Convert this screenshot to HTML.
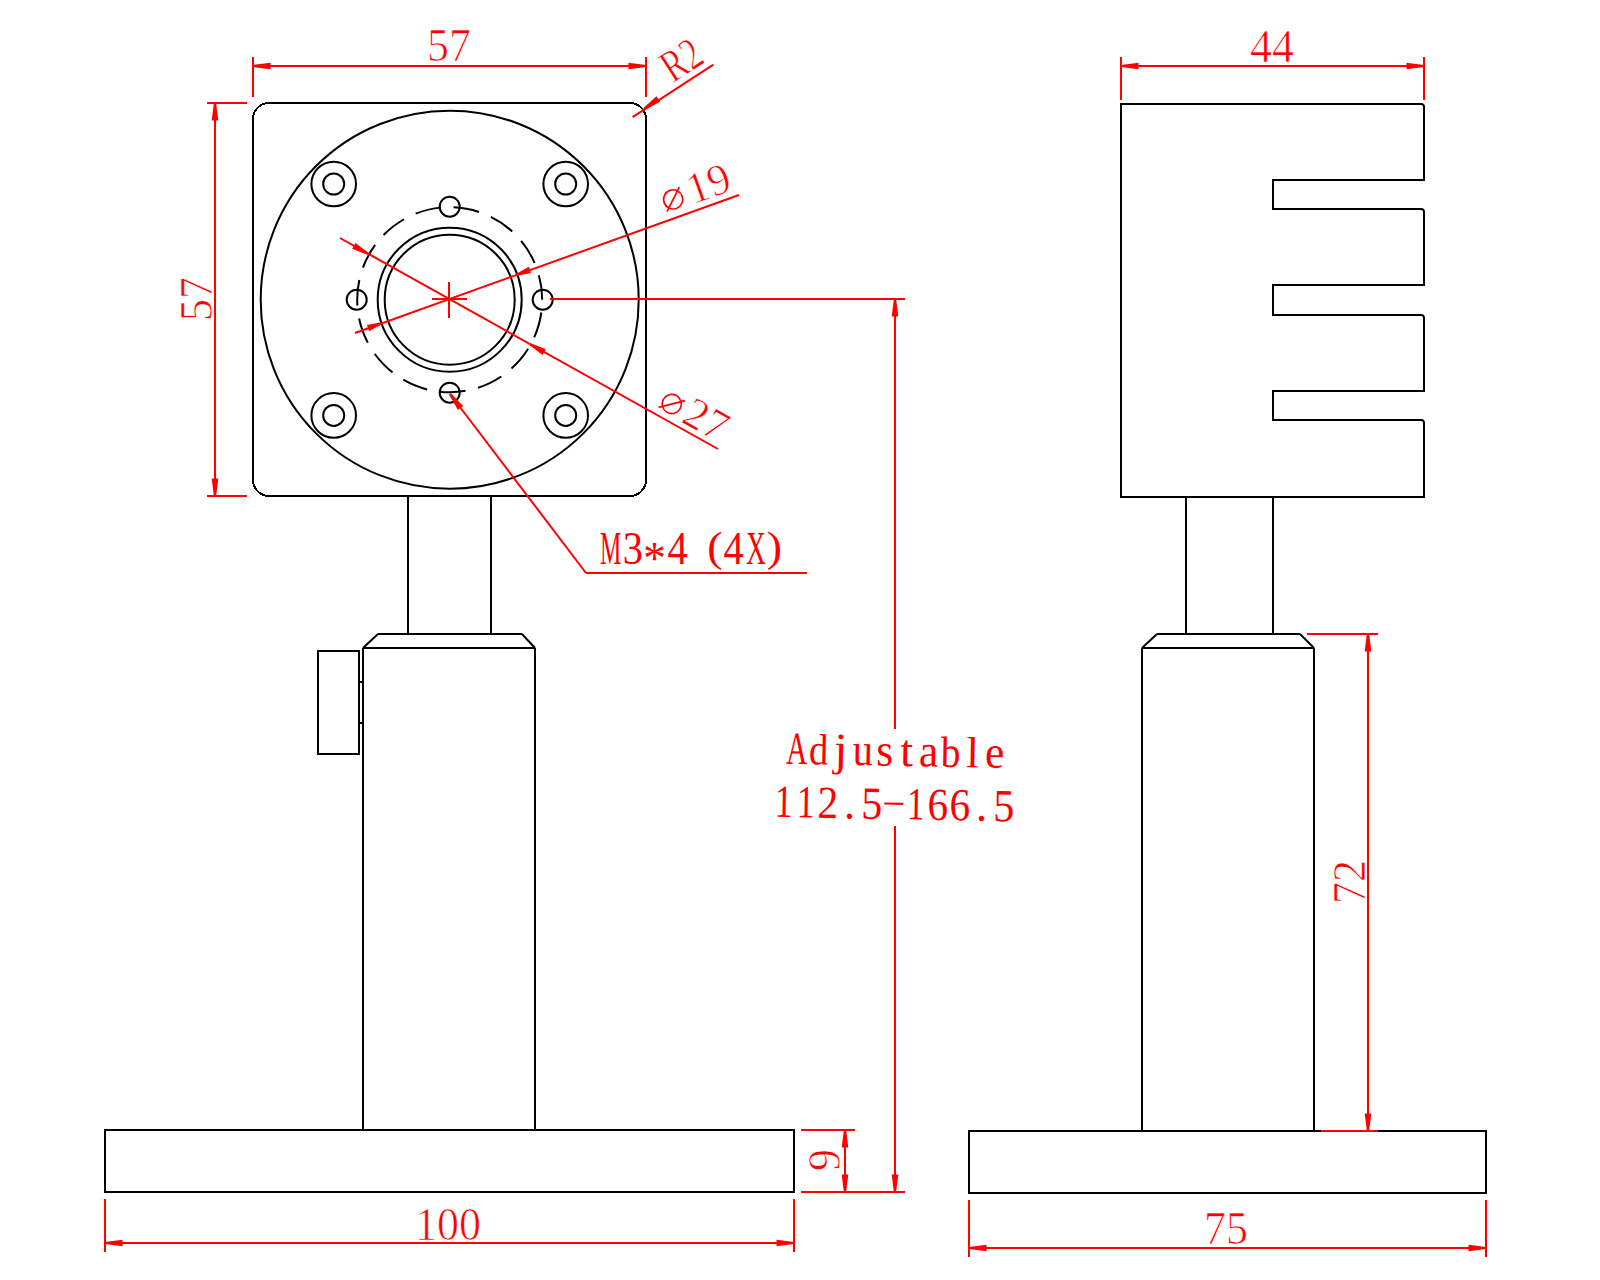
<!DOCTYPE html>
<html><head><meta charset="utf-8"><style>
html,body{margin:0;padding:0;background:#fff;}
svg{display:block;}
</style></head><body>
<svg width="1600" height="1280" viewBox="0 0 1600 1280">
<rect width="1600" height="1280" fill="#fff"/>
<g shape-rendering="crispEdges">
<rect x="253" y="103" width="393" height="393" rx="16" ry="16" fill="none" stroke="#000000" stroke-width="2"/>
</g>
<circle cx="449.70" cy="299.70" r="189.00" fill="none" stroke="#000000" stroke-width="2" />
<circle cx="333.70" cy="184.00" r="22.30" fill="none" stroke="#000000" stroke-width="2" />
<circle cx="333.70" cy="184.00" r="10.50" fill="none" stroke="#000000" stroke-width="2" />
<circle cx="333.70" cy="415.40" r="22.30" fill="none" stroke="#000000" stroke-width="2" />
<circle cx="333.70" cy="415.40" r="10.50" fill="none" stroke="#000000" stroke-width="2" />
<circle cx="565.70" cy="184.00" r="22.30" fill="none" stroke="#000000" stroke-width="2" />
<circle cx="565.70" cy="184.00" r="10.50" fill="none" stroke="#000000" stroke-width="2" />
<circle cx="565.70" cy="415.40" r="22.30" fill="none" stroke="#000000" stroke-width="2" />
<circle cx="565.70" cy="415.40" r="10.50" fill="none" stroke="#000000" stroke-width="2" />
<circle cx="449.70" cy="299.70" r="72.00" fill="none" stroke="#000000" stroke-width="2" />
<circle cx="449.70" cy="299.70" r="65.00" fill="none" stroke="#000000" stroke-width="2" />
<path d="M542.2,299.7 A92.5,92.5 0 0 1 357.2,299.7 A92.5,92.5 0 0 1 542.2,299.7" fill="none" stroke="#000000" stroke-width="2" stroke-dasharray="25.831 12.915" stroke-dashoffset="25.831"/>
<circle cx="542.70" cy="299.70" r="10.00" fill="none" stroke="#000000" stroke-width="2" />
<circle cx="356.70" cy="299.70" r="10.00" fill="none" stroke="#000000" stroke-width="2" />
<circle cx="449.70" cy="206.70" r="10.00" fill="none" stroke="#000000" stroke-width="2" />
<circle cx="449.70" cy="392.70" r="10.00" fill="none" stroke="#000000" stroke-width="2" />
<g shape-rendering="crispEdges">
<line x1="408.00" y1="496.00" x2="408.00" y2="634.00" stroke="#000000" stroke-width="2"/>
<line x1="491.00" y1="496.00" x2="491.00" y2="634.00" stroke="#000000" stroke-width="2"/>
<line x1="378.00" y1="634.00" x2="522.00" y2="634.00" stroke="#000000" stroke-width="2"/>
<line x1="363.00" y1="648.00" x2="535.00" y2="648.00" stroke="#000000" stroke-width="2"/>
<line x1="363.00" y1="1130.00" x2="363.00" y2="648.00" stroke="#000000" stroke-width="2"/>
<line x1="535.00" y1="1130.00" x2="535.00" y2="648.00" stroke="#000000" stroke-width="2"/>
<rect x="318" y="651" width="41" height="103" fill="none" stroke="#000" stroke-width="2"/>
<line x1="359.00" y1="682.00" x2="363.00" y2="682.00" stroke="#000000" stroke-width="2"/>
<line x1="359.00" y1="723.00" x2="363.00" y2="723.00" stroke="#000000" stroke-width="2"/>
<rect x="105" y="1130" width="689" height="62" fill="none" stroke="#000" stroke-width="2"/>
</g>
<polyline points="378.00,634.00 363.00,648.00" fill="none" stroke="#000000" stroke-width="2"/>
<polyline points="522.00,634.00 535.00,648.00" fill="none" stroke="#000000" stroke-width="2"/>
<path d="M1121,104 L1421,104 Q1424,104 1424,107 L1424,180 L1273,180 L1273,209 L1421,209 Q1424,209 1424,212 L1424,285 L1273,285 L1273,315 L1421,315 Q1424,315 1424,318 L1424,391 L1273,391 L1273,420 L1421,420 Q1424,420 1424,423 L1424,497 L1121,497 Z" fill="none" stroke="#000000" stroke-width="2"/>
<g shape-rendering="crispEdges">
<line x1="1186.00" y1="497.00" x2="1186.00" y2="634.00" stroke="#000000" stroke-width="2"/>
<line x1="1273.00" y1="497.00" x2="1273.00" y2="634.00" stroke="#000000" stroke-width="2"/>
<line x1="1157.00" y1="634.00" x2="1300.00" y2="634.00" stroke="#000000" stroke-width="2"/>
<line x1="1142.00" y1="648.00" x2="1314.00" y2="648.00" stroke="#000000" stroke-width="2"/>
<line x1="1142.00" y1="648.00" x2="1142.00" y2="1131.00" stroke="#000000" stroke-width="2"/>
<line x1="1314.00" y1="648.00" x2="1314.00" y2="1131.00" stroke="#000000" stroke-width="2"/>
<rect x="969" y="1131" width="517" height="62" fill="none" stroke="#000" stroke-width="2"/>
</g>
<polyline points="1157.00,634.00 1142.00,648.00" fill="none" stroke="#000000" stroke-width="2"/>
<polyline points="1300.00,634.00 1314.00,648.00" fill="none" stroke="#000000" stroke-width="2"/>
<g shape-rendering="crispEdges">
<line x1="253.00" y1="57.00" x2="253.00" y2="97.00" stroke="#ff0000" stroke-width="2"/>
<line x1="646.00" y1="57.00" x2="646.00" y2="97.00" stroke="#ff0000" stroke-width="2"/>
<line x1="253.00" y1="66.00" x2="646.00" y2="66.00" stroke="#ff0000" stroke-width="2"/>
<line x1="207.00" y1="103.00" x2="247.00" y2="103.00" stroke="#ff0000" stroke-width="2"/>
<line x1="207.00" y1="496.00" x2="247.00" y2="496.00" stroke="#ff0000" stroke-width="2"/>
<line x1="215.00" y1="103.00" x2="215.00" y2="496.00" stroke="#ff0000" stroke-width="2"/>
<line x1="1121.00" y1="57.00" x2="1121.00" y2="100.00" stroke="#ff0000" stroke-width="2"/>
<line x1="1424.00" y1="57.00" x2="1424.00" y2="100.00" stroke="#ff0000" stroke-width="2"/>
<line x1="1121.00" y1="66.00" x2="1424.00" y2="66.00" stroke="#ff0000" stroke-width="2"/>
<line x1="105.00" y1="1199.00" x2="105.00" y2="1252.00" stroke="#ff0000" stroke-width="2"/>
<line x1="794.00" y1="1199.00" x2="794.00" y2="1252.00" stroke="#ff0000" stroke-width="2"/>
<line x1="105.00" y1="1243.00" x2="794.00" y2="1243.00" stroke="#ff0000" stroke-width="2"/>
<line x1="969.00" y1="1200.00" x2="969.00" y2="1257.00" stroke="#ff0000" stroke-width="2"/>
<line x1="1486.00" y1="1200.00" x2="1486.00" y2="1257.00" stroke="#ff0000" stroke-width="2"/>
<line x1="969.00" y1="1248.00" x2="1486.00" y2="1248.00" stroke="#ff0000" stroke-width="2"/>
<line x1="801.00" y1="1130.00" x2="855.00" y2="1130.00" stroke="#ff0000" stroke-width="2"/>
<line x1="801.00" y1="1192.00" x2="905.00" y2="1192.00" stroke="#ff0000" stroke-width="2"/>
<line x1="845.00" y1="1130.00" x2="845.00" y2="1192.00" stroke="#ff0000" stroke-width="2"/>
<line x1="550.00" y1="299.00" x2="905.00" y2="299.00" stroke="#ff0000" stroke-width="2"/>
<line x1="895.00" y1="299.00" x2="895.00" y2="729.00" stroke="#ff0000" stroke-width="2"/>
<line x1="895.00" y1="826.00" x2="895.00" y2="1192.00" stroke="#ff0000" stroke-width="2"/>
<line x1="1307.00" y1="634.00" x2="1378.00" y2="634.00" stroke="#ff0000" stroke-width="2"/>
<line x1="1321.00" y1="1131.00" x2="1378.00" y2="1131.00" stroke="#ff0000" stroke-width="2"/>
<line x1="1368.00" y1="634.00" x2="1368.00" y2="1131.00" stroke="#ff0000" stroke-width="2"/>
<line x1="586.00" y1="573.00" x2="807.00" y2="573.00" stroke="#ff0000" stroke-width="2"/>
<line x1="449.00" y1="282.00" x2="449.00" y2="318.00" stroke="#ff0000" stroke-width="2"/>
<line x1="432.00" y1="299.00" x2="467.00" y2="299.00" stroke="#ff0000" stroke-width="2"/>
</g>
<line x1="340.00" y1="238.00" x2="718.00" y2="449.00" stroke="#ff0000" stroke-width="2"/>
<line x1="355.00" y1="333.00" x2="739.00" y2="195.00" stroke="#ff0000" stroke-width="2"/>
<line x1="632.60" y1="117.10" x2="713.40" y2="64.70" stroke="#ff0000" stroke-width="2"/>
<line x1="450.00" y1="394.00" x2="586.00" y2="573.00" stroke="#ff0000" stroke-width="2"/>
<polygon points="253.00,64.90 270.50,62.70 270.50,69.30 253.00,67.10" fill="#ff0000" stroke="none"/>
<polygon points="646.00,67.10 628.50,69.30 628.50,62.70 646.00,64.90" fill="#ff0000" stroke="none"/>
<polygon points="216.10,103.00 218.30,120.50 211.70,120.50 213.90,103.00" fill="#ff0000" stroke="none"/>
<polygon points="213.90,496.00 211.70,478.50 218.30,478.50 216.10,496.00" fill="#ff0000" stroke="none"/>
<polygon points="1121.00,64.90 1138.50,62.70 1138.50,69.30 1121.00,67.10" fill="#ff0000" stroke="none"/>
<polygon points="1424.00,67.10 1406.50,69.30 1406.50,62.70 1424.00,64.90" fill="#ff0000" stroke="none"/>
<polygon points="105.00,1241.90 122.50,1239.70 122.50,1246.30 105.00,1244.10" fill="#ff0000" stroke="none"/>
<polygon points="794.00,1244.10 776.50,1246.30 776.50,1239.70 794.00,1241.90" fill="#ff0000" stroke="none"/>
<polygon points="969.00,1246.90 986.50,1244.70 986.50,1251.30 969.00,1249.10" fill="#ff0000" stroke="none"/>
<polygon points="1486.00,1249.10 1468.50,1251.30 1468.50,1244.70 1486.00,1246.90" fill="#ff0000" stroke="none"/>
<polygon points="846.10,1130.00 848.30,1147.50 841.70,1147.50 843.90,1130.00" fill="#ff0000" stroke="none"/>
<polygon points="843.90,1192.00 841.70,1174.50 848.30,1174.50 846.10,1192.00" fill="#ff0000" stroke="none"/>
<polygon points="896.10,299.00 898.30,316.50 891.70,316.50 893.90,299.00" fill="#ff0000" stroke="none"/>
<polygon points="893.90,1192.00 891.70,1174.50 898.30,1174.50 896.10,1192.00" fill="#ff0000" stroke="none"/>
<polygon points="1369.10,634.00 1371.30,651.50 1364.70,651.50 1366.90,634.00" fill="#ff0000" stroke="none"/>
<polygon points="1366.90,1131.00 1364.70,1113.50 1371.30,1113.50 1369.10,1131.00" fill="#ff0000" stroke="none"/>
<polygon points="643.37,108.10 656.47,96.29 660.25,101.71 644.63,109.90" fill="#ff0000" stroke="none"/>
<polygon points="450.88,393.33 463.21,405.94 457.96,409.93 449.12,394.67" fill="#ff0000" stroke="none"/>
<polygon points="516.40,273.66 528.84,266.86 531.07,273.08 517.14,275.73" fill="#ff0000" stroke="none"/>
<polygon points="381.60,324.34 369.16,331.14 366.93,324.92 380.86,322.27" fill="#ff0000" stroke="none"/>
<polygon points="530.76,343.33 545.81,349.20 542.59,354.97 529.69,345.25" fill="#ff0000" stroke="none"/>
<polygon points="367.24,254.67 352.19,248.80 355.41,243.03 368.31,252.75" fill="#ff0000" stroke="none"/>
<text x="0" y="0" font-family="Liberation Serif" font-size="45.5" fill="#ff0000" stroke="#fff" stroke-width="0.7" text-anchor="middle" transform="translate(449.00 61.00) scale(0.965 1)">57</text>
<text x="0" y="0" font-family="Liberation Serif" font-size="45.5" fill="#ff0000" stroke="#fff" stroke-width="0.7" text-anchor="middle" transform="translate(212.00 299.00) rotate(-90.000) scale(0.965 1)">57</text>
<text x="0" y="0" font-family="Liberation Serif" font-size="45.5" fill="#ff0000" stroke="#fff" stroke-width="0.7" text-anchor="middle" transform="translate(1272.00 62.00) scale(0.965 1)">44</text>
<text x="0" y="0" font-family="Liberation Serif" font-size="45.5" fill="#ff0000" stroke="#fff" stroke-width="0.7" text-anchor="middle" transform="translate(448.00 1240.00) scale(0.965 1)">100</text>
<text x="0" y="0" font-family="Liberation Serif" font-size="45.5" fill="#ff0000" stroke="#fff" stroke-width="0.7" text-anchor="middle" transform="translate(1226.00 1244.00) scale(0.965 1)">75</text>
<text x="0" y="0" font-family="Liberation Serif" font-size="45.5" fill="#ff0000" stroke="#fff" stroke-width="0.7" text-anchor="middle" transform="translate(840.00 1160.00) rotate(-90.000) scale(0.965 1)">9</text>
<text x="0" y="0" font-family="Liberation Serif" font-size="45.5" fill="#ff0000" stroke="#fff" stroke-width="0.7" text-anchor="middle" transform="translate(1365.00 882.00) rotate(-90.000) scale(0.965 1)">72</text>
<g transform="translate(449 299) rotate(-19.729)">
<circle cx="244.6" cy="-18.1" r="9.6" fill="none" stroke="#ff0000" stroke-width="1.7"/>
<line x1="234.70" y1="-8.70" x2="254.50" y2="-27.50" stroke="#ff0000" stroke-width="1.7"/>
<text x="283" y="-6.5" font-family="Liberation Serif" font-size="44" fill="#ff0000" stroke="#fff" stroke-width="0.7" text-anchor="middle">19</text>
</g>
<g transform="translate(449 299) rotate(29.145)">
<circle cx="245.7" cy="-16.8" r="9.6" fill="none" stroke="#ff0000" stroke-width="1.7"/>
<line x1="235.80" y1="-7.40" x2="255.60" y2="-26.20" stroke="#ff0000" stroke-width="1.7"/>
<text x="283.5" y="-5.5" font-family="Liberation Serif" font-size="44" fill="#ff0000" stroke="#fff" stroke-width="0.7" text-anchor="middle">27</text>
</g>
<g transform="translate(632.6 117.1) rotate(-32.964)"><text x="52" y="-6.3" font-family="Liberation Serif" font-size="46" fill="#ff0000" stroke="#fff" stroke-width="0.7" textLength="40" lengthAdjust="spacingAndGlyphs">R2</text></g>
<g transform="rotate(1.07 895 792)">
<text x="0" y="0" font-family="Liberation Serif" font-size="46" fill="#ff0000" text-anchor="middle" transform="translate(796.00 765.90) scale(0.64 1.0)">A</text>
<text x="0" y="0" font-family="Liberation Serif" font-size="46" fill="#ff0000" text-anchor="middle" transform="translate(818.00 765.90) scale(0.84 0.95)">d</text>
<text x="0" y="0" font-family="Liberation Serif" font-size="46" fill="#ff0000" text-anchor="middle" transform="translate(840.00 765.90) scale(1.05 1.0)">j</text>
<text x="0" y="0" font-family="Liberation Serif" font-size="46" fill="#ff0000" text-anchor="middle" transform="translate(862.00 765.90) scale(0.88 1.0)">u</text>
<text x="0" y="0" font-family="Liberation Serif" font-size="46" fill="#ff0000" text-anchor="middle" transform="translate(884.00 765.90) scale(0.95 1.0)">s</text>
<text x="0" y="0" font-family="Liberation Serif" font-size="46" fill="#ff0000" text-anchor="middle" transform="translate(906.00 765.90) scale(1.0 1.0)">t</text>
<text x="0" y="0" font-family="Liberation Serif" font-size="46" fill="#ff0000" text-anchor="middle" transform="translate(928.00 765.90) scale(0.95 1.0)">a</text>
<text x="0" y="0" font-family="Liberation Serif" font-size="46" fill="#ff0000" text-anchor="middle" transform="translate(950.00 765.90) scale(0.86 0.95)">b</text>
<text x="0" y="0" font-family="Liberation Serif" font-size="46" fill="#ff0000" text-anchor="middle" transform="translate(972.00 765.90) scale(1.0 0.95)">l</text>
<text x="0" y="0" font-family="Liberation Serif" font-size="46" fill="#ff0000" text-anchor="middle" transform="translate(994.00 765.90) scale(0.95 1.0)">e</text>
<text x="0" y="0" font-family="Liberation Serif" font-size="46" fill="#ff0000" text-anchor="middle" transform="translate(784.00 819.10) scale(0.78 1.0)">1</text>
<text x="0" y="0" font-family="Liberation Serif" font-size="46" fill="#ff0000" text-anchor="middle" transform="translate(806.00 819.10) scale(0.78 1.0)">1</text>
<text x="0" y="0" font-family="Liberation Serif" font-size="46" fill="#ff0000" text-anchor="middle" transform="translate(828.00 819.10) scale(0.9 1.0)">2</text>
<text x="0" y="0" font-family="Liberation Serif" font-size="46" fill="#ff0000" text-anchor="middle" transform="translate(850.00 819.10) scale(1 1.0)">.</text>
<text x="0" y="0" font-family="Liberation Serif" font-size="46" fill="#ff0000" text-anchor="middle" transform="translate(872.00 819.10) scale(0.92 1.0)">5</text>
<rect x="884.50" y="802.60" width="19" height="2.2" fill="#ff0000"/>
<text x="0" y="0" font-family="Liberation Serif" font-size="46" fill="#ff0000" text-anchor="middle" transform="translate(916.00 819.10) scale(0.78 1.0)">1</text>
<text x="0" y="0" font-family="Liberation Serif" font-size="46" fill="#ff0000" text-anchor="middle" transform="translate(938.00 819.10) scale(0.9 1.0)">6</text>
<text x="0" y="0" font-family="Liberation Serif" font-size="46" fill="#ff0000" text-anchor="middle" transform="translate(960.00 819.10) scale(0.9 1.0)">6</text>
<text x="0" y="0" font-family="Liberation Serif" font-size="46" fill="#ff0000" text-anchor="middle" transform="translate(982.00 819.10) scale(1 1.0)">.</text>
<text x="0" y="0" font-family="Liberation Serif" font-size="46" fill="#ff0000" text-anchor="middle" transform="translate(1004.00 819.10) scale(0.92 1.0)">5</text>
</g>
<text x="0" y="0" font-family="Liberation Serif" font-size="46" fill="#ff0000" text-anchor="middle" transform="translate(610.70 564.00) scale(0.52 1.0)">M</text>
<text x="0" y="0" font-family="Liberation Serif" font-size="46" fill="#ff0000" text-anchor="middle" transform="translate(632.90 564.00) scale(0.88 1.0)">3</text>
<text x="0" y="0" font-family="Liberation Serif" font-size="46" fill="#ff0000" text-anchor="middle" transform="translate(654.60 574.00) scale(1.0 1.0)">*</text>
<text x="0" y="0" font-family="Liberation Serif" font-size="46" fill="#ff0000" text-anchor="middle" transform="translate(677.50 564.00) scale(0.88 1.0)">4</text>
<text x="0" y="0" font-family="Liberation Serif" font-size="46" fill="#ff0000" text-anchor="middle" transform="translate(715.00 561.00) scale(1 0.93)">(</text>
<text x="0" y="0" font-family="Liberation Serif" font-size="46" fill="#ff0000" text-anchor="middle" transform="translate(733.70 564.00) scale(0.88 1.0)">4</text>
<text x="0" y="0" font-family="Liberation Serif" font-size="46" fill="#ff0000" text-anchor="middle" transform="translate(755.90 564.00) scale(0.6 1.0)">X</text>
<text x="0" y="0" font-family="Liberation Serif" font-size="46" fill="#ff0000" text-anchor="middle" transform="translate(774.50 561.00) scale(1 0.93)">)</text>
</svg></body></html>
